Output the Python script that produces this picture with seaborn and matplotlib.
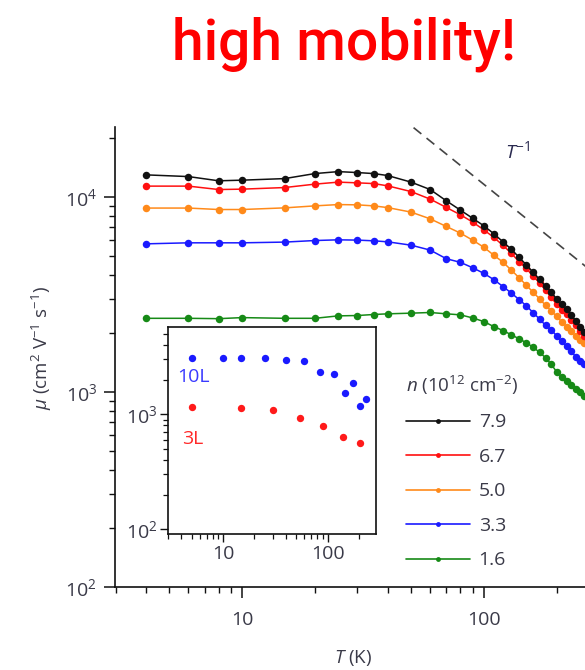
import numpy as np
import pandas as pd
import matplotlib
matplotlib.use("Agg")
import matplotlib.pyplot as plt
from matplotlib.lines import Line2D
from matplotlib.ticker import LogLocator, NullFormatter, FixedLocator, FixedFormatter
import seaborn as sns

# ---------------- data ----------------
T = [4, 6, 8, 10, 15, 20, 25, 30, 35, 40, 50, 60, 70, 80, 90, 100, 110, 120, 130,
     140, 150, 160, 170, 180, 190, 200, 210, 220, 230, 240, 250, 260]

mu_79 = [13010, 12750, 12130, 12220, 12450, 13210, 13520, 13370, 13210, 12910, 11940,
         10940, 9570, 8580, 7785, 7130, 6490, 5900, 5400, 4910, 4495, 4110, 3785, 3505,
         3250, 3010, 2835, 2675, 2490, 2320, 2165, 2040]
mu_67 = [11390, 11390, 10940, 10990, 11200, 11660, 11940, 11840, 11740, 11430, 10680,
         9770, 8850, 8120, 7445, 6795, 6215, 5660, 5150, 4660, 4315, 3920, 3635, 3325,
         3060, 2820, 2640, 2505, 2350, 2200, 2050, 1945]
mu_50 = [8790, 8790, 8640, 8640, 8810, 9020, 9160, 9130, 9020, 8840, 8380, 7740, 7070,
         6540, 6010, 5535, 5035, 4640, 4220, 3860, 3530, 3250, 3010, 2785, 2610, 2445,
         2295, 2165, 2050, 1945, 1855, 1780]
mu_33 = [5760, 5830, 5830, 5830, 5880, 5990, 6040, 6020, 5970, 5900, 5670, 5350, 4830,
         4630, 4340, 4065, 3775, 3480, 3220, 2980, 2770, 2555, 2370, 2200, 2085, 1945,
         1820, 1718, 1620, 1517, 1440, 1390]
mu_16 = [2390, 2390, 2380, 2410, 2390, 2390, 2460, 2470, 2500, 2520, 2540, 2560, 2520,
         2490, 2400, 2300, 2167, 2069, 1966, 1876, 1790, 1698, 1600, 1500, 1390, 1271,
         1198, 1136, 1090, 1040, 998, 951]

n_labels = ["7.9", "6.7", "5.0", "3.3", "1.6"]
series = [mu_79, mu_67, mu_50, mu_33, mu_16]
colors = ["#111111", "#ff1010", "#ff8a1a", "#1a1aff", "#168a16"]

# T^-1 guide line endpoints
guide_T = [40, 300]
guide_mu = [29100, 3880]

# inset data
T_10L = [5, 10, 15, 25, 40, 60, 85, 115, 145, 175, 205, 235]
mu_10L = [3070, 3100, 3070, 3100, 2990, 2900, 2320, 2250, 1520, 1880, 1190, 1350]
T_3L = [5, 15, 30, 55, 90, 140, 205]
mu_3L = [1157, 1128, 1083, 923, 796, 638, 560]

# ---------------- style ----------------
sns.set_theme(style="white")
FONT = ["Open Sans", "DejaVu Sans"]
plt.rcParams["font.family"] = FONT
plt.rcParams["mathtext.fontset"] = "custom"
plt.rcParams["mathtext.rm"] = "Open Sans"
plt.rcParams["mathtext.it"] = "Open Sans:italic"
TXT = "#3a3a48"

W, H = 585, 670
fig = plt.figure(figsize=(W / 100, H / 100), dpi=100)
fig.patch.set_facecolor("white")


def axrect(l, t, r, b):
    return [l / W, 1 - b / H, (r - l) / W, (b - t) / H]


ax = fig.add_axes(axrect(115, 127, 590, 587))

rows = []
for lab, vals in zip(n_labels, series):
    for t, m in zip(T, vals):
        rows.append({"T": t, "mu": m, "n": lab})
df = pd.DataFrame(rows)

sns.lineplot(data=df, x="T", y="mu", hue="n", hue_order=n_labels[::-1],
             palette=dict(zip(n_labels, colors)), marker="o", markersize=5.4,
             markeredgewidth=0, linewidth=1.1, legend=False, ax=ax, zorder=3)
ax.plot(guide_T, guide_mu, color="#444444", lw=1.2, ls=(0, (6, 4)), zorder=2)

ax.set_xscale("log")
ax.set_yscale("log")
ax.set_xlim(2.98, 275)
ax.set_ylim(100, 22900)
for s in ["top", "right"]:
    ax.spines[s].set_visible(False)
for s in ["left", "bottom"]:
    ax.spines[s].set_color("#111111")
    ax.spines[s].set_linewidth(1.2)

ax.xaxis.set_major_locator(FixedLocator([10, 100]))
ax.xaxis.set_major_formatter(FixedFormatter(["10", "100"]))
ax.xaxis.set_minor_locator(LogLocator(base=10, subs=np.arange(2, 10), numticks=20))
ax.xaxis.set_minor_formatter(NullFormatter())
ax.yaxis.set_major_locator(FixedLocator([100, 1000, 10000]))
ax.yaxis.set_major_formatter(FixedFormatter(["$10^2$", "$10^3$", "$10^4$"]))
ax.yaxis.set_minor_locator(LogLocator(base=10, subs=np.arange(2, 10), numticks=20))
ax.yaxis.set_minor_formatter(NullFormatter())
ax.tick_params(which="major", direction="out", length=8, width=1.1, colors="#111111",
               labelcolor=TXT, labelsize=14, bottom=True, left=True, pad=5)
ax.tick_params(which="minor", direction="out", length=4.5, width=1.0, colors="#111111",
               bottom=True, left=True)
ax.tick_params(axis="x", which="major", pad=9)

ax.set_xlabel("")
ax.set_ylabel("")
fig.text(353 / W, 1 - 658 / H, "$T$ (K)", ha="center", va="center",
         fontsize=13.5, color=TXT)
fig.text(42 / W, 1 - 348 / H, r"$\mu$ (cm$^2$ V$^{-1}$ s$^{-1}$)", ha="center",
         va="center", rotation=90, fontsize=13.5, color=TXT)

ax.text(518 / W, 1 - 151 / H, "$T^{-1}$", transform=fig.transFigure, ha="center",
        va="center", fontsize=14, color="#2a2a50")

# legend
handles = [Line2D([0], [0], color=c, lw=1.2, marker="o", markersize=3.5,
                  markeredgewidth=0) for c in colors]
leg = ax.legend(handles, n_labels, title=r"$n$ (10$^{12}$ cm$^{-2}$)",
                loc="upper left", bbox_to_anchor=(396 / W, 1 - 364 / H),
                bbox_transform=fig.transFigure, frameon=False, fontsize=14,
                title_fontsize=13.5, handlelength=3.3, handletextpad=0.45,
                labelspacing=0.85, numpoints=1, alignment="left", borderpad=0)
for t in leg.get_texts():
    t.set_color(TXT)
leg.get_title().set_color(TXT)

# ---------------- inset ----------------
ins = fig.add_axes(axrect(168.3, 327.3, 376, 534))
ins.set_facecolor("white")
sns.scatterplot(x=T_10L, y=mu_10L, color="#1a1aff", s=28, linewidth=0, ax=ins)
sns.scatterplot(x=T_3L, y=mu_3L, color="#ff1a1a", s=28, linewidth=0, ax=ins)
ins.set_xscale("log")
ins.set_yscale("log")
ins.set_xlim(3, 290)
ins.set_ylim(91, 5710)
for s in ins.spines.values():
    s.set_color("#111111")
    s.set_linewidth(1.2)
ins.xaxis.set_major_locator(FixedLocator([10, 100]))
ins.xaxis.set_major_formatter(FixedFormatter(["10", "100"]))
ins.xaxis.set_minor_locator(LogLocator(base=10, subs=np.arange(2, 10), numticks=20))
ins.xaxis.set_minor_formatter(NullFormatter())
ins.yaxis.set_major_locator(FixedLocator([100, 1000]))
ins.yaxis.set_major_formatter(FixedFormatter(["$10^2$", "$10^3$"]))
ins.yaxis.set_minor_locator(LogLocator(base=10, subs=np.arange(2, 10), numticks=20))
ins.yaxis.set_minor_formatter(NullFormatter())
ins.tick_params(which="major", direction="out", length=6, width=1.0, colors="#111111",
                labelcolor=TXT, labelsize=14, bottom=True, left=True, pad=2)
ins.tick_params(which="minor", direction="out", length=3.5, width=0.9,
                colors="#111111", bottom=True, left=True)
ins.text(193 / W, 1 - 377 / H, "10L", transform=fig.transFigure, ha="center",
         va="center", fontsize=14, color="#3a3aff")
ins.text(193 / W, 1 - 439 / H, "3L", transform=fig.transFigure, ha="center",
         va="center", fontsize=14, color="#ff2a2a")

# title
fig.text(344 / W, 1 - 59.3 / H, "high mobility!", ha="center", va="baseline",
         fontsize=41, color="#ff0000", fontweight="medium",
         family=["Roboto", "DejaVu Sans"])

fig.savefig("out.png", dpi=100, facecolor="white")
